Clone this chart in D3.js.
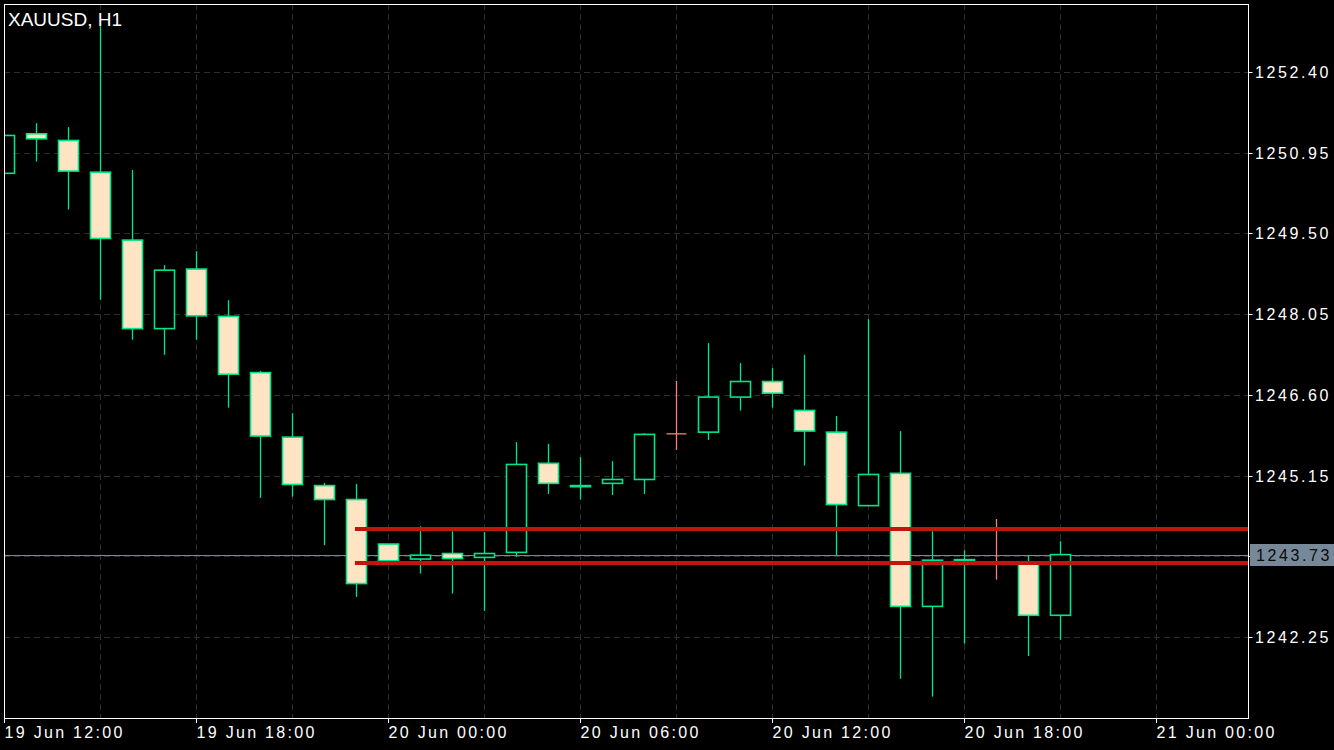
<!DOCTYPE html>
<html>
<head>
<meta charset="utf-8">
<script src="https://cdn.jsdelivr.net/npm/d3@7"></script>
<style>
  html, body { margin: 0; padding: 0; background: #000; }
  svg { display: block; }
  text { font-family: "Liberation Sans", Arial, sans-serif; }
</style>
</head>
<body>
<svg id="chart" width="1334" height="750"></svg>
<script>
// ---------- DATA ----------
const symbolTitle = "XAUUSD, H1";
const startTime = "2018-06-19T12:00:00Z";
// hourly candles starting 19 Jun 12:00
const opens  = [1250.58,1251.29,1251.17,1250.60,1249.38,1247.79,1248.86,1248.01,1247.00,1245.84,
                1244.97,1244.72,1243.92,1243.65,1243.75,1243.68,1243.77,1245.37,1244.97,1245.01,
                1245.08,1245.90,1245.93,1246.56,1246.84,1246.32,1245.93,1244.61,1245.19,1242.80,
                1243.63,1243.60,1243.60,1242.64];
const highs  = [1251.26,1251.48,1251.41,1253.22,1250.64,1248.93,1249.18,1248.30,1247.03,1246.27,
                1245.02,1245.00,1243.92,1244.24,1244.15,1244.14,1245.75,1245.72,1245.48,1245.41,
                1245.91,1246.85,1247.53,1247.17,1247.08,1247.32,1246.22,1247.96,1245.95,1244.15,
                1243.81,1244.37,1243.72,1243.97];
const lows   = [1250.58,1250.79,1249.93,1248.31,1247.59,1247.32,1247.59,1246.37,1244.75,1244.77,
                1243.90,1242.97,1243.62,1243.39,1243.03,1242.72,1243.69,1244.82,1244.72,1244.80,
                1244.82,1245.61,1245.79,1246.32,1246.37,1245.33,1243.72,1244.61,1241.50,1241.18,
                1242.13,1243.28,1241.91,1242.20];
const closes = [1251.26,1251.20,1250.62,1249.41,1247.79,1248.84,1248.02,1246.97,1245.86,1244.99,
                1244.72,1243.21,1243.62,1243.72,1243.66,1243.75,1245.35,1245.01,1244.95,1245.08,
                1245.89,1245.90,1246.56,1246.84,1246.63,1245.95,1244.63,1245.17,1242.80,1243.63,
                1243.64,1243.60,1242.64,1243.73];
const priceTicks = [1242.25, 1243.70, 1245.15, 1246.60, 1248.05, 1249.50, 1250.95, 1252.40];
const hiddenTickLabels = [1243.70];
const timeTicks = ["2018-06-19T12:00:00Z","2018-06-19T18:00:00Z","2018-06-20T00:00:00Z",
                   "2018-06-20T06:00:00Z","2018-06-20T12:00:00Z","2018-06-20T18:00:00Z",
                   "2018-06-21T00:00:00Z"];
const currentPrice = 1243.73;
const levelLines = [1244.19, 1243.58];
const levelStart = "2018-06-19T22:58:00Z";

// ---------- LAYOUT ----------
const frame = { left: 4, top: 4, right: 1248, bottom: 718 };
const C = {
  bg: "#000000", frame: "#ffffff", grid: "#2e2e2e", text: "#ffffff",
  outline: "#00e587", bearFill: "#ffe4c4", bullFill: "#000000", doji: "#fa8072",
  level: "#c0160c", priceLine: "#778899", priceBox: "#778899", priceText: "#0a0a0a"
};

const svg = d3.select("#chart");
svg.append("rect").attr("width", 1334).attr("height", 750).attr("fill", C.bg);

const t0 = new Date(startTime);
const candles = opens.map((o, i) => ({
  t: d3.utcHour.offset(t0, i), o, h: highs[i], l: lows[i], c: closes[i]
}));

const x = d3.scaleUtc()
  .domain([new Date(timeTicks[0]), new Date(timeTicks[timeTicks.length - 1])])
  .range([4, 1156]);
const y = d3.scaleLinear().domain([1242.25, 1252.40]).range([637, 72]);

svg.append("clipPath").attr("id", "plotclip")
  .append("rect").attr("x", frame.left).attr("y", frame.top)
  .attr("width", frame.right - frame.left).attr("height", frame.bottom - frame.top);

const plot = svg.append("g").attr("clip-path", "url(#plotclip)");

// grid
const gridTimes = d3.utcHour.every(3).range(new Date(timeTicks[0]), d3.utcHour.offset(new Date(timeTicks[timeTicks.length - 1]), 4));
plot.append("g").selectAll("line").data(gridTimes).join("line")
  .attr("x1", d => Math.round(x(d)) + 0.5).attr("x2", d => Math.round(x(d)) + 0.5)
  .attr("y1", frame.top).attr("y2", frame.bottom)
  .attr("stroke", C.grid).attr("stroke-width", 1).attr("stroke-dasharray", "6,4");
plot.append("g").selectAll("line").data(priceTicks).join("line")
  .attr("x1", frame.left).attr("x2", frame.right)
  .attr("y1", d => Math.round(y(d)) + 0.5).attr("y2", d => Math.round(y(d)) + 0.5)
  .attr("stroke", C.grid).attr("stroke-width", 1).attr("stroke-dasharray", "6,4");

// current price line
plot.append("line")
  .attr("x1", frame.left).attr("x2", frame.right)
  .attr("y1", Math.round(y(currentPrice)) + 0.5).attr("y2", Math.round(y(currentPrice)) + 0.5)
  .attr("stroke", C.priceLine).attr("stroke-width", 1);

// candles
const bodyW = 20;
const cg = plot.append("g");
candles.forEach(d => {
  const cx = Math.round(x(d.t)) + 0.5;
  const isDoji = d.o === d.c;
  const col = isDoji ? C.doji : C.outline;
  cg.append("line").attr("x1", cx).attr("x2", cx)
    .attr("y1", y(d.h)).attr("y2", y(d.l))
    .attr("stroke", col).attr("stroke-width", 1.3);
  if (isDoji) {
    cg.append("line").attr("x1", cx - bodyW / 2).attr("x2", cx + bodyW / 2)
      .attr("y1", y(d.o)).attr("y2", y(d.o))
      .attr("stroke", col).attr("stroke-width", 1.3);
  } else {
    const top = y(Math.max(d.o, d.c)), bot = y(Math.min(d.o, d.c));
    cg.append("rect").attr("x", cx - bodyW / 2).attr("y", top)
      .attr("width", bodyW).attr("height", Math.max(0.5, bot - top))
      .attr("fill", d.c < d.o ? C.bearFill : C.bullFill)
      .attr("stroke", col).attr("stroke-width", 1.6);
  }
});

// level lines
plot.append("g").selectAll("line").data(levelLines).join("line")
  .attr("x1", x(new Date(levelStart))).attr("x2", frame.right)
  .attr("y1", d => y(d)).attr("y2", d => y(d))
  .attr("stroke", C.level).attr("stroke-width", 4);

// frame
svg.append("rect").attr("x", frame.left + 0.5).attr("y", frame.top + 0.5)
  .attr("width", frame.right - frame.left).attr("height", frame.bottom - frame.top)
  .attr("fill", "none").attr("stroke", C.frame).attr("stroke-width", 1);

// title
svg.append("text").attr("x", 8).attr("y", 26).attr("fill", C.text)
  .attr("font-size", 19).text(symbolTitle);

// y axis (right)
const fmtP = d3.format(".2f");
const yAxis = svg.append("g");
const shownTicks = priceTicks.filter(p => !hiddenTickLabels.includes(p));
yAxis.selectAll("line").data(priceTicks).join("line")
  .attr("x1", frame.right + 0.5).attr("x2", frame.right + 4.5)
  .attr("y1", d => Math.round(y(d)) + 0.5).attr("y2", d => Math.round(y(d)) + 0.5)
  .attr("stroke", C.frame);
yAxis.selectAll("text").data(shownTicks).join("text")
  .attr("x", 1255).attr("y", d => y(d) + 6)
  .attr("fill", C.text).attr("font-size", 16).attr("letter-spacing", "2.6px")
  .text(d => fmtP(d));

// current price label
const py = y(currentPrice);
svg.append("rect").attr("x", 1250).attr("y", Math.round(py) - 11)
  .attr("width", 84).attr("height", 22).attr("fill", C.priceBox);
svg.append("text").attr("x", 1256).attr("y", py + 6)
  .attr("fill", C.priceText).attr("font-size", 16).attr("letter-spacing", "2.6px")
  .text(fmtP(currentPrice));

// x axis
const fmtT = d3.utcFormat("%d %b %H:%M");
const xAxis = svg.append("g");
const tt = timeTicks.map(s => new Date(s));
xAxis.selectAll("line").data(tt).join("line")
  .attr("x1", d => Math.round(x(d)) + 0.5).attr("x2", d => Math.round(x(d)) + 0.5)
  .attr("y1", frame.bottom + 0.5).attr("y2", frame.bottom + 5)
  .attr("stroke", C.frame);
xAxis.selectAll("text").data(tt).join("text")
  .attr("x", d => x(d) + 0.5).attr("y", 738)
  .attr("fill", C.text).attr("font-size", 16).attr("letter-spacing", "2.3px")
  .text(d => fmtT(d));
</script>
</body>
</html>
